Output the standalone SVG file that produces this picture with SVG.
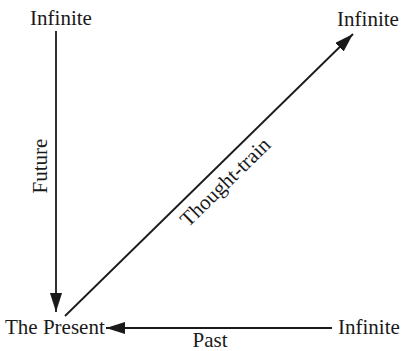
<svg xmlns="http://www.w3.org/2000/svg" width="402" height="351" viewBox="0 0 402 351">
  <style>
    text { font-family: "Liberation Serif", "Times New Roman", serif; font-size: 21px; fill: #1a1a1a; }
    .conn { stroke: #1a1a1a; stroke-width: 1.8; fill: none; }
  </style>
  <defs>
    <marker id="arrow" markerUnits="userSpaceOnUse" markerWidth="22" markerHeight="14" refX="19" refY="6" orient="auto">
      <path d="M0,0 L19,6 L0,12 z" fill="#1a1a1a"/>
    </marker>
  </defs>
  <rect width="402" height="351" fill="#ffffff"/>
  <g id="connectors">
    <line class="conn" x1="56" y1="31" x2="56" y2="312" marker-end="url(#arrow)"/>
    <line class="conn" x1="65" y1="316" x2="353" y2="34" marker-end="url(#arrow)"/>
    <line class="conn" x1="332" y1="328" x2="106" y2="328" marker-end="url(#arrow)"/>
    <text x="210" y="347" text-anchor="middle">Past</text>
    <text transform="translate(47,166) rotate(-90)" text-anchor="middle">Future</text>
    <text transform="translate(230,187) rotate(-44.4)" text-anchor="middle">Thought-train</text>
  </g>
  <g id="node-infinite-top-left">
    <text x="61" y="25" text-anchor="middle">Infinite</text>
  </g>
  <g id="node-infinite-top-right">
    <text x="368" y="26" text-anchor="middle">Infinite</text>
  </g>
  <g id="node-present">
    <text x="5" y="334">The Present</text>
  </g>
  <g id="node-infinite-bottom-right">
    <text x="338" y="334">Infinite</text>
  </g>
</svg>
